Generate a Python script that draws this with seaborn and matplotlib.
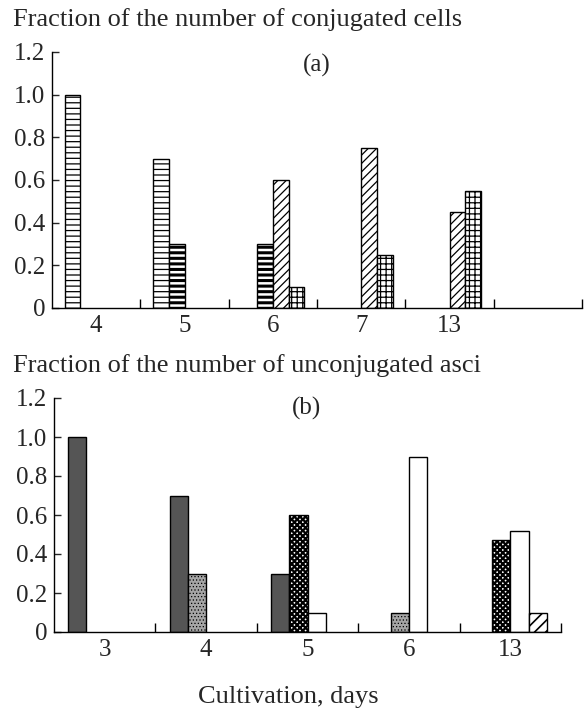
import matplotlib
matplotlib.use('Agg')
import matplotlib.pyplot as plt
import seaborn as sns
import pandas as pd

# panel (a): fraction of conjugated cells
days_a = ['4', '5', '6', '7', '13', '']
cells_s1 = [1.0, 0.7, 0.0, 0.0, 0.0]
cells_s2 = [0.0, 0.3, 0.3, 0.0, 0.0]
cells_s3 = [0.0, 0.0, 0.6, 0.75, 0.45]
cells_s4 = [0.0, 0.0, 0.1, 0.25, 0.55]

# panel (b): fraction of unconjugated asci
days_b = ['3', '4', '5', '6', '13']
asci_s1 = [1.0, 0.7, 0.3, 0.0, 0.0]
asci_s2 = [0.0, 0.3, 0.0, 0.1, 0.0]
asci_s3 = [0.0, 0.0, 0.6, 0.0, 0.47]
asci_s4 = [0.0, 0.0, 0.1, 0.9, 0.52]
asci_s5 = [0.0, 0.0, 0.0, 0.0, 0.1]

yticks = [0, 0.2, 0.4, 0.6, 0.8, 1.0, 1.2]
ytick_labels = ['0', '0.2', '0.4', '0.6', '0.8', '1.0', '1.2']

sns.set_style('ticks')
plt.rcParams['font.family'] = 'serif'
plt.rcParams['font.serif'] = ['Liberation Serif', 'DejaVu Serif']
plt.rcParams['hatch.linewidth'] = 0.9

# styles: series -> (facecolor, hatch, hatch linewidth)
style_a = {'s1': ('white', '---', 0.9),
           's2': ('white', '---', 2.2),
           's3': ('white', '////', 0.9),
           's4': ('white', '+++', 0.9)}
style_b = {'s1': ('#555555', '', 0.9),
           's2': ('#a6a6a6', '.....', 0.5),
           's3': ('white', 'xxxxxx', 1.6),
           's4': ('white', '', 0.9),
           's5': ('white', '///', 1.2)}
# dodge slot of each series (in panel b s2 and s3 share a slot)
slot_a = {'s1': 0, 's2': 1, 's3': 2, 's4': 3}
slot_b = {'s1': 0, 's2': 1, 's3': 1, 's4': 2, 's5': 3}


def long_df(days, series, slots):
    rows = []
    for name, vals in series.items():
        for d, v in zip(days, vals):
            if v > 0:
                rows.append({'day': d, 'series': name, 'slot': slots[name], 'value': v})
    return pd.DataFrame(rows)


df_a = long_df(days_a, {'s1': cells_s1, 's2': cells_s2, 's3': cells_s3, 's4': cells_s4}, slot_a)
df_b = long_df(days_b, {'s1': asci_s1, 's2': asci_s2, 's3': asci_s3, 's4': asci_s4,
                        's5': asci_s5}, slot_b)

fig = plt.figure(figsize=(5.84, 7.09), dpi=100)
ax_a = fig.add_axes([52 / 584, 1 - 308 / 709, 530 / 584, 256 / 709])
ax_b = fig.add_axes([54 / 584, 1 - 632 / 709, 507 / 584, 234 / 709])


def draw(ax, df, days, styles, width):
    nslot = 4
    sns.barplot(data=df, x='day', y='value', hue='slot', order=days,
                hue_order=list(range(nslot)), palette=['white'] * nslot,
                width=width, saturation=1, errorbar=None, legend=False,
                edgecolor='black', linewidth=1.0, ax=ax)
    bw = width / nslot
    lookup = {(days.index(r.day), r.slot): r.series for r in df.itertuples()}
    for bar in ax.patches:
        cx = bar.get_x() + bar.get_width() / 2
        cat = int(round(cx))
        slot = int(round((cx - cat) / bw + (nslot - 1) / 2))
        name = lookup.get((cat, slot))
        if name is None:
            continue
        fc, hatch, hlw = styles[name]
        bar.set_facecolor(fc)
        bar.set_hatch(hatch)
        if hasattr(bar, 'set_hatch_linewidth'):
            bar.set_hatch_linewidth(hlw)

    n = len(days)
    ax.set_xlim(-0.5, n - 0.5)
    ax.set_ylim(0, 1.2)
    ax.set_yticks(yticks)
    ax.set_yticklabels(ytick_labels)
    ax.set_xticks(range(n))
    ax.set_xticklabels(days)
    ax.set_xticks([i + 0.5 for i in range(n)], minor=True)
    ax.tick_params(axis='x', which='major', length=0, pad=5, labelsize=18)
    ax.tick_params(axis='x', which='minor', direction='in', length=6.5, width=1, color='black')
    ax.tick_params(axis='y', direction='in', length=5, width=1, pad=5, labelsize=18)
    ax.set_xlabel('')
    ax.set_ylabel('')
    sns.despine(ax=ax)
    for s in ['left', 'bottom']:
        ax.spines[s].set_color('black')
        ax.spines[s].set_linewidth(1.0)


draw(ax_a, df_a, days_a, style_a, 0.71)
draw(ax_b, df_b, days_b, style_b, 0.72)

ax_a.text(0.5, 0.949, '(a)', transform=ax_a.transAxes, ha='center', va='center', fontsize=18)
ax_b.text(0.499, 0.957, '(b)', transform=ax_b.transAxes, ha='center', va='center', fontsize=18)

fig.text(13 / 584, 1 - 26 / 709, 'Fraction of the number of conjugated cells',
         ha='left', va='baseline', fontsize=19)
fig.text(13 / 584, 1 - 372 / 709, 'Fraction of the number of unconjugated asci',
         ha='left', va='baseline', fontsize=19)
fig.text(288 / 584, 1 - 697 / 709, 'Cultivation, days', ha='center', va='center', fontsize=19)

fig.savefig('out.png', dpi=100)
